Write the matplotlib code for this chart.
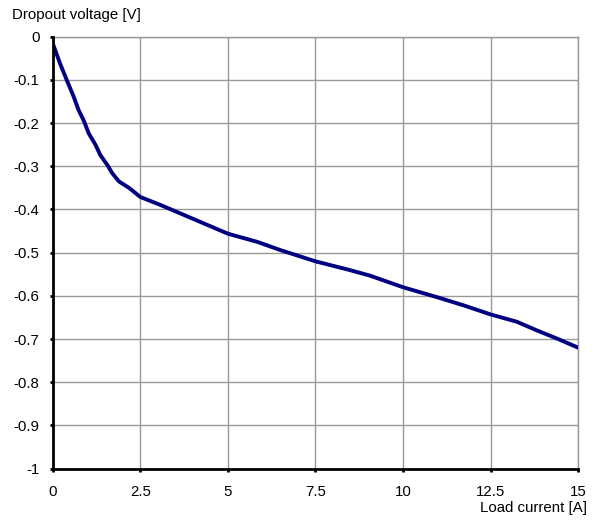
import matplotlib.pyplot as plt

plt.rcParams['font.family'] = ['Liberation Sans', 'DejaVu Sans']

# measured dropout curve: load current [A] vs dropout voltage [V]
current = [0.0, 0.21, 0.40, 0.60, 0.74, 0.88, 1.03, 1.22, 1.36, 1.56, 1.70,
           1.89, 2.18, 2.50, 3.09, 3.67, 4.45, 5.00, 5.84, 6.50, 7.50, 8.47,
           9.05, 10.0, 10.97, 11.73, 12.5, 13.25, 13.82, 14.4, 15.0]
voltage = [-0.015, -0.062, -0.100, -0.139, -0.170, -0.193, -0.224, -0.250,
           -0.274, -0.297, -0.316, -0.335, -0.350, -0.371, -0.390, -0.410,
           -0.437, -0.456, -0.475, -0.494, -0.520, -0.540, -0.553, -0.580,
           -0.603, -0.622, -0.643, -0.660, -0.680, -0.699, -0.720]

x_ticks = [0, 2.5, 5, 7.5, 10, 12.5, 15]
x_labels = ['0', '2.5', '5', '7.5', '10', '12.5', '15']
y_ticks = [0, -0.1, -0.2, -0.3, -0.4, -0.5, -0.6, -0.7, -0.8, -0.9, -1]
y_labels = ['0', '-0.1', '-0.2', '-0.3', '-0.4', '-0.5', '-0.6', '-0.7',
            '-0.8', '-0.9', '-1']

fs = 10.8

fig = plt.figure(figsize=(5.96, 5.2), dpi=100)
ax = fig.add_axes([0.0884, 0.0987, 0.8819, 0.8307])

ax.plot(current, voltage, color='#000080', lw=2.8, solid_capstyle='round',
        solid_joinstyle='round', zorder=3)

ax.set_xlim(0, 15)
ax.set_ylim(-1, 0)
ax.set_xticks(x_ticks)
ax.set_xticklabels(x_labels)
ax.set_yticks(y_ticks)
ax.set_yticklabels(y_labels)

ax.grid(True, color='#999999', lw=1.0)
ax.set_axisbelow(True)
for side in ['top', 'right']:
    ax.spines[side].set_color('#999999')
    ax.spines[side].set_linewidth(1.0)
for side in ['left', 'bottom']:
    ax.spines[side].set_color('black')
    ax.spines[side].set_linewidth(2.0)
    ax.spines[side].set_zorder(4)

ax.tick_params(direction='out', length=2.5, width=2, colors='black',
               labelsize=fs, pad=7)
ax.tick_params(axis='x', pad=9)

fig.text(0.02, 0.971, 'Dropout voltage [V]', fontsize=fs, va='center',
         ha='left')
fig.text(0.985, 0.023, 'Load current [A]', fontsize=fs, va='center',
         ha='right')

fig.savefig('out.png', dpi=100)
